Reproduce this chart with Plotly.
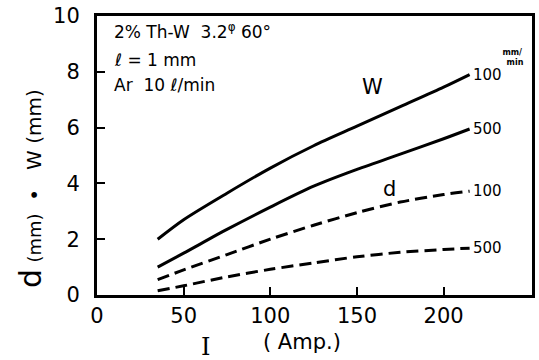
import plotly.graph_objects as go

current = [35, 50, 75, 100, 125, 150, 175, 200, 215]
W_100 = [2.0, 2.7, 3.65, 4.55, 5.35, 6.05, 6.75, 7.45, 7.9]
W_500 = [1.0, 1.5, 2.35, 3.15, 3.9, 4.5, 5.05, 5.6, 5.95]
d_100 = [0.55, 0.9, 1.45, 2.0, 2.5, 2.95, 3.33, 3.6, 3.72]
d_500 = [0.15, 0.33, 0.65, 0.92, 1.15, 1.37, 1.53, 1.63, 1.68]

x_ticks = [0, 50, 100, 150, 200]
y_ticks = [0, 2, 4, 6, 8, 10]
x_range = [0, 251]
y_range = [0, 10]

FONT = "DejaVu Sans"
BLACK = "black"
PLOT_W, PLOT_H = 435, 279

fig = go.Figure()

series = [
    (W_100, "solid", "100"),
    (W_500, "solid", "500"),
    (d_100, "12px,6px", "100"),
    (d_500, "12px,6px", "500"),
]
for ys, dash, lab in series:
    fig.add_trace(go.Scatter(x=current, y=ys, mode="lines",
                             line=dict(color=BLACK, width=3, dash=dash,
                                       shape="spline", smoothing=0.8),
                             showlegend=False, hoverinfo="skip"))
    fig.add_annotation(x=current[-1], y=ys[-1], text=lab, showarrow=False,
                       xanchor="left", yanchor="middle", xshift=1,
                       font=dict(family=FONT, size=15, color=BLACK))

fig.add_annotation(x=158.7, y=7.45, text="W", showarrow=False,
                   font=dict(family=FONT, size=21, color=BLACK))
fig.add_annotation(x=168.5, y=3.8, text="d", showarrow=False,
                   font=dict(family=FONT, size=21, color=BLACK))
fig.add_annotation(x=239.5, y=8.5, text="<b>mm/</b><br><b>  min</b>",
                   showarrow=False,
                   font=dict(family=FONT, size=8, color=BLACK))

# top-left conditions
info_lines = [("2% Th-W  3.2<sup>φ</sup> 60°", 31),
              ("ℓ = 1 mm", 60),
              ("Ar  10 ℓ/min", 85)]
for txt, ypx in info_lines:
    fig.add_annotation(xref="paper", yref="paper", x=(112 - 97) / PLOT_W,
                       y=(295 - ypx) / PLOT_H, xanchor="left", yanchor="middle",
                       text=txt, showarrow=False,
                       font=dict(family=FONT, size=17, color=BLACK))

# axis titles
fig.add_annotation(xref="paper", yref="paper", x=(205 - 97) / PLOT_W,
                   y=(295 - 347) / PLOT_H, text="I", showarrow=False,
                   xanchor="center", yanchor="middle",
                   font=dict(family="DejaVu Serif", size=24, color=BLACK))
fig.add_annotation(xref="paper", yref="paper", x=(302 - 97) / PLOT_W,
                   y=(295 - 342) / PLOT_H, text="( Amp.)", showarrow=False,
                   xanchor="center", yanchor="middle",
                   font=dict(family=FONT, size=21, color=BLACK))
fig.add_annotation(xref="paper", yref="paper", x=(30 - 97) / PLOT_W,
                   y=(295 - 189) / PLOT_H, textangle=-90, showarrow=False,
                   xanchor="center", yanchor="middle",
                   text=("<span style='font-size:30px'>d</span> "
                         "<span style='font-size:18px'>(mm)</span>  •   W "
                         "<span style='font-size:20px'>(mm)</span>"),
                   font=dict(family=FONT, size=20, color=BLACK))

fig.update_layout(
    width=539, height=360,
    margin=dict(l=97, r=7, t=16, b=65, autoexpand=False),
    paper_bgcolor="white", plot_bgcolor="white",
    font=dict(family=FONT, color=BLACK),
    xaxis=dict(range=x_range, tickvals=x_ticks, ticks="inside", ticklen=8,
               tickwidth=2, tickcolor=BLACK, showgrid=False, zeroline=False,
               showline=True, linewidth=3, linecolor=BLACK, mirror=True,
               automargin=False, tickfont=dict(size=21)),
    yaxis=dict(range=y_range, tickvals=y_ticks, ticks="inside", ticklen=8,
               tickwidth=2, tickcolor=BLACK, showgrid=False, zeroline=False,
               showline=True, linewidth=3, linecolor=BLACK, mirror=True,
               automargin=False, ticklabelstandoff=10,
               tickfont=dict(size=21)),
)

post = "document.body.style.margin='0';"
fig.write_html("out.html", post_script=post,
               config={"displayModeBar": False})
